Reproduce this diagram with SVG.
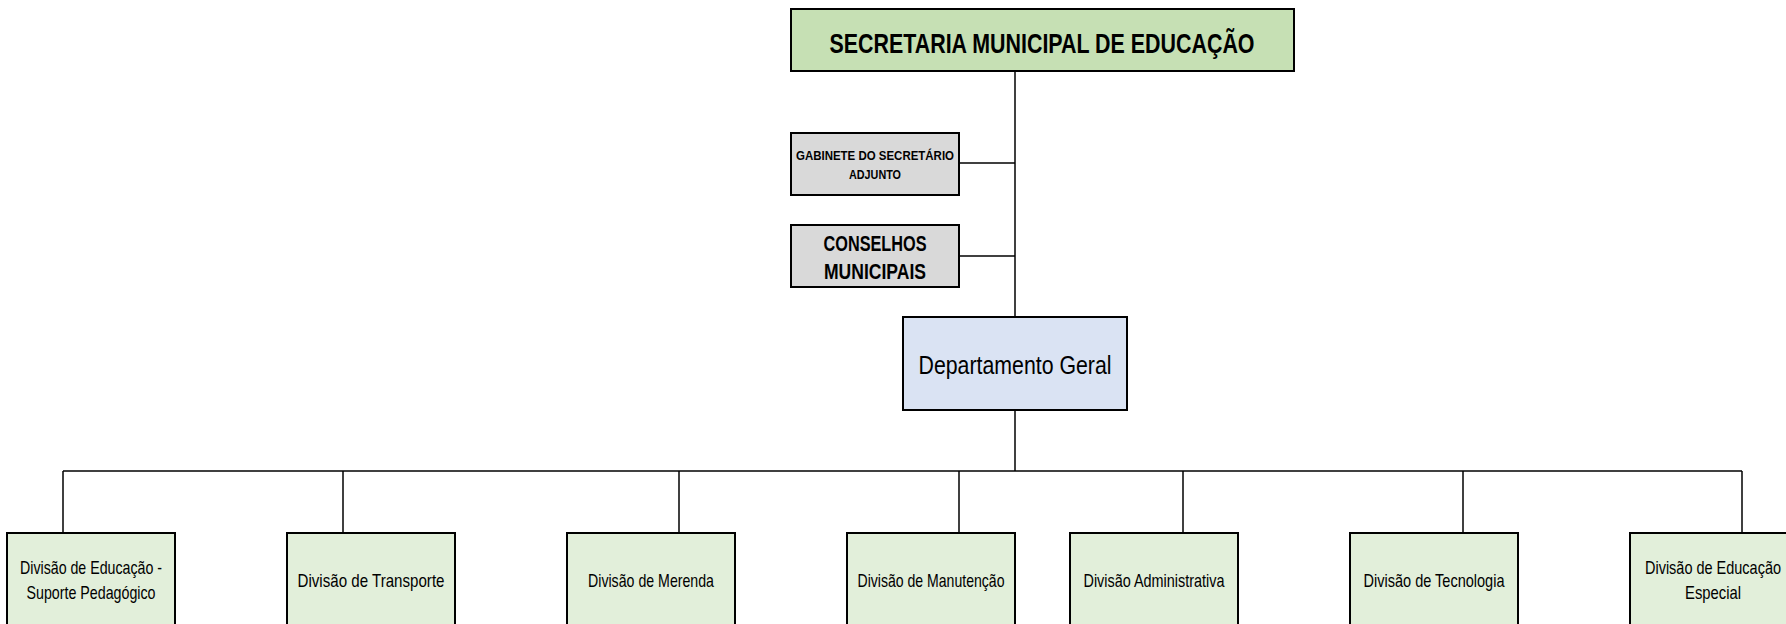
<svg xmlns="http://www.w3.org/2000/svg" width="1786" height="624" viewBox="0 0 1786 624">
<style>
.box{stroke:#000;stroke-width:2}
.g1{fill:#c6e0b4}
.gr{fill:#d9d9d9}
.bl{fill:#dae3f3}
.g2{fill:#e2efda}
.t{font-family:"Liberation Sans",Arial,sans-serif;fill:#000;text-anchor:middle;dominant-baseline:central}
.b{font-weight:bold}
.s{font-size:18.5px}
.con line{stroke:#000;stroke-width:1.5;fill:none}
</style>
<rect width="1786" height="624" fill="#fff"/>
<g class="con">
<line x1="1015" y1="71" x2="1015" y2="317"/>
<line x1="959" y1="163" x2="1015" y2="163"/>
<line x1="959" y1="256" x2="1015" y2="256"/>
<line x1="1015" y1="410" x2="1015" y2="471"/>
<line x1="63" y1="471" x2="1742" y2="471"/>
<line x1="63" y1="471" x2="63" y2="533"/>
<line x1="343" y1="471" x2="343" y2="533"/>
<line x1="679" y1="471" x2="679" y2="533"/>
<line x1="959" y1="471" x2="959" y2="533"/>
<line x1="1183" y1="471" x2="1183" y2="533"/>
<line x1="1463" y1="471" x2="1463" y2="533"/>
<line x1="1742" y1="471" x2="1742" y2="533"/>
</g>
<g id="secretaria"><rect class="box g1" x="791" y="9" width="503" height="62"/><text class="t b" x="1042" y="43" font-size="28" textLength="425" lengthAdjust="spacingAndGlyphs">SECRETARIA MUNICIPAL DE EDUCAÇÃO</text></g>
<g id="gabinete"><rect class="box gr" x="791" y="133" width="168" height="62"/><text class="t b" x="875" y="155" font-size="13" textLength="158" lengthAdjust="spacingAndGlyphs">GABINETE DO SECRETÁRIO</text><text class="t b" x="875" y="174" font-size="13" textLength="52" lengthAdjust="spacingAndGlyphs">ADJUNTO</text></g>
<g id="conselhos"><rect class="box gr" x="791" y="225" width="168" height="62"/><text class="t b" x="875" y="243" font-size="22" textLength="103" lengthAdjust="spacingAndGlyphs">CONSELHOS</text><text class="t b" x="875" y="271" font-size="22" textLength="102" lengthAdjust="spacingAndGlyphs">MUNICIPAIS</text></g>
<g id="departamento"><rect class="box bl" x="903" y="317" width="224" height="93"/><text class="t" x="1015" y="365" font-size="26" textLength="193" lengthAdjust="spacingAndGlyphs">Departamento Geral</text></g>
<g id="div1"><rect class="box g2" x="7" y="533" width="168" height="110"/><text class="t s" x="91" y="567" textLength="142" lengthAdjust="spacingAndGlyphs">Divisão de Educação -</text><text class="t s" x="91" y="592" textLength="129" lengthAdjust="spacingAndGlyphs">Suporte Pedagógico</text></g>
<g id="div2"><rect class="box g2" x="287" y="533" width="168" height="110"/><text class="t s" x="371" y="580" textLength="147" lengthAdjust="spacingAndGlyphs">Divisão de Transporte</text></g>
<g id="div3"><rect class="box g2" x="567" y="533" width="168" height="110"/><text class="t s" x="651" y="580" textLength="126" lengthAdjust="spacingAndGlyphs">Divisão de Merenda</text></g>
<g id="div4"><rect class="box g2" x="847" y="533" width="168" height="110"/><text class="t s" x="931" y="580" textLength="147" lengthAdjust="spacingAndGlyphs">Divisão de Manutenção</text></g>
<g id="div5"><rect class="box g2" x="1070" y="533" width="168" height="110"/><text class="t s" x="1154" y="580" textLength="141" lengthAdjust="spacingAndGlyphs">Divisão Administrativa</text></g>
<g id="div6"><rect class="box g2" x="1350" y="533" width="168" height="110"/><text class="t s" x="1434" y="580" textLength="141" lengthAdjust="spacingAndGlyphs">Divisão de Tecnologia</text></g>
<g id="div7"><rect class="box g2" x="1630" y="533" width="168" height="110"/><text class="t s" x="1713" y="567" textLength="136" lengthAdjust="spacingAndGlyphs">Divisão de Educação</text><text class="t s" x="1713" y="592" textLength="56" lengthAdjust="spacingAndGlyphs">Especial</text></g>
</svg>
